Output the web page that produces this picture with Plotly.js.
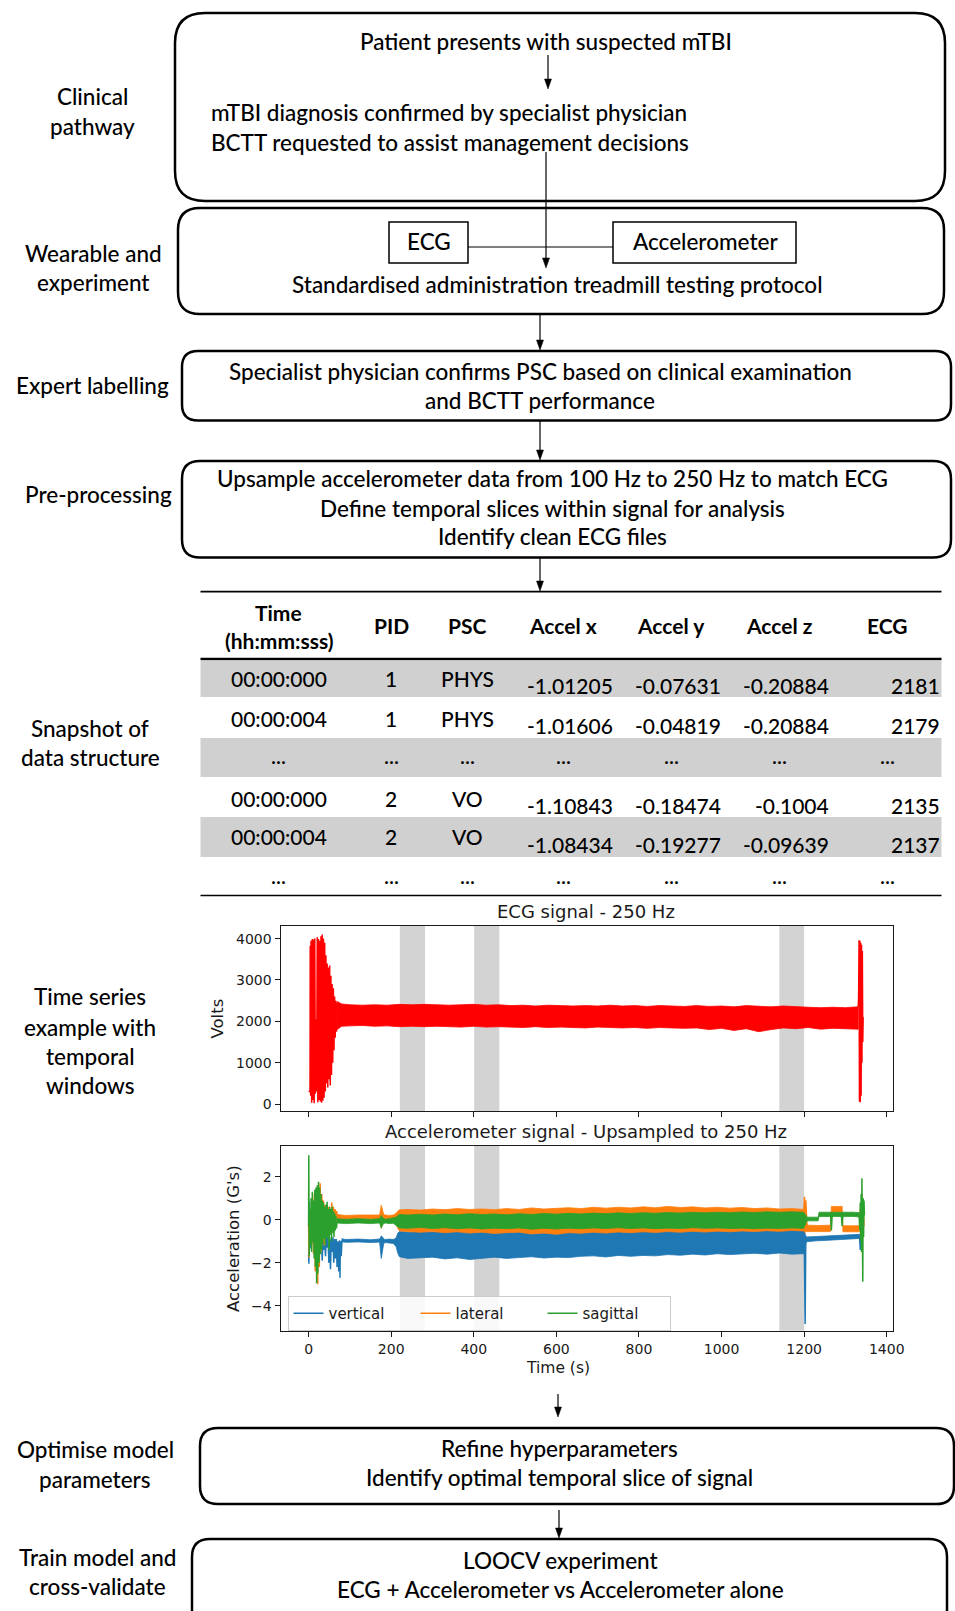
<!DOCTYPE html>
<html><head><meta charset="utf-8">
<script src="https://cdn.plot.ly/plotly-3.0.1.min.js"></script>
<style>html,body{margin:0;padding:0;background:#fff;}#chart{width:955px;height:1611px;}</style>
</head><body><div id="chart"></div>
<script>
// ---------------- DATA ----------------
// Snapshot table
const tableHeaders = ["Time", "PID", "PSC", "Accel x", "Accel y", "Accel z", "ECG"];
const tableTime   = ["00:00:000", "00:00:004", "...", "00:00:000", "00:00:004", "..."];
const tablePID    = ["1", "1", "...", "2", "2", "..."];
const tablePSC    = ["PHYS", "PHYS", "...", "VO", "VO", "..."];
const tableAccelX = ["-1.01205", "-1.01606", "...", "-1.10843", "-1.08434", "..."];
const tableAccelY = ["-0.07631", "-0.04819", "...", "-0.18474", "-0.19277", "..."];
const tableAccelZ = ["-0.20884", "-0.20884", "...", "-0.1004", "-0.09639", "..."];
const tableECG    = ["2181", "2179", "...", "2135", "2137", "..."];

// Temporal windows (s)
const windowStart = [221, 401, 1140];
const windowEnd   = [282, 462, 1200];

// Axis ticks
const timeTicks = [0, 200, 400, 600, 800, 1000, 1200, 1400];
const ecgTicks = [0, 1000, 2000, 3000, 4000];
const accTicks = [-4, -2, 0, 2];

// ECG signal: envelope of dense oscillation + explicit spike traces
const ecgBandT  = [69, 80, 100, 130, 160, 190, 220, 250, 280, 310, 340, 370, 400, 430, 460, 490, 520, 550, 580, 610, 640, 670, 700, 730, 760, 790, 820, 850, 880, 910, 940, 970, 1000, 1030, 1060, 1090, 1120, 1150, 1180, 1210, 1240, 1270, 1300, 1331];
const ecgBandHi = [2480, 2420, 2400, 2390, 2400, 2390, 2410, 2400, 2410, 2400, 2390, 2400, 2410, 2390, 2400, 2380, 2390, 2370, 2390, 2380, 2370, 2380, 2370, 2390, 2370, 2380, 2360, 2380, 2370, 2360, 2380, 2360, 2370, 2350, 2380, 2360, 2350, 2370, 2350, 2340, 2330, 2340, 2330, 2350];
const ecgBandLo = [1800, 1880, 1890, 1900, 1880, 1890, 1870, 1880, 1870, 1880, 1870, 1860, 1880, 1860, 1870, 1860, 1850, 1870, 1850, 1860, 1850, 1840, 1860, 1850, 1840, 1850, 1830, 1850, 1840, 1830, 1840, 1800, 1830, 1780, 1820, 1750, 1800, 1840, 1820, 1850, 1810, 1830, 1820, 1810];
const ecgLineT = [0, 3.5, 4, 5, 6, 7.5, 9, 10.5, 12, 13.5, 15, 16.5, 18, 19.5, 21, 22.5, 24, 25.5, 27, 28.5, 30, 31.5, 33, 34.5, 36, 37.5, 39, 40.5, 42, 43.5, 45, 46.5, 48, 49.5, 51, 52.5, 54, 55.5, 57, 58.5, 60, 61.5, 63, 64.5, 66, 67.5, 69, null, 1331, 1332, 1333, 1334, 1335, 1336, 1337, 1338, 1339, 1340, 1341, 1342, 1343];
const ecgLineV = [300, 300, 3830, 200, 3950, 30, 3990, 100, 3980, 20, 4000, 250, 2050, 300, 4030, 40, 3990, 100, 3950, 60, 4060, 30, 4100, 80, 4000, 150, 3900, 300, 3600, 500, 3400, 400, 3300, 600, 3350, 450, 3100, 700, 2900, 1000, 2800, 1300, 2600, 1600, 2500, 1750, 2450, null, 2350, 2600, 3960, 60, 3950, 40, 3900, 200, 3850, 1000, 3700, 1500, 2100];

// Accelerometer - vertical
const vertBandT  = [80, 90, 120, 150, 172, 176, 179, 182, 186, 195, 205, 212, 216, 220, 240, 270, 300, 330, 360, 390, 420, 450, 480, 510, 540, 570, 600, 630, 660, 690, 720, 750, 780, 810, 840, 870, 900, 930, 960, 990, 1020, 1050, 1080, 1110, 1140, 1170, 1199, 1205, 1230, 1260, 1290, 1320, 1334];
const vertBandHi = [-0.88, -0.92, -0.90, -0.93, -0.90, -0.75, -0.80, -0.90, -0.92, -0.90, -0.92, -0.85, -0.62, -0.55, -0.58, -0.55, -0.57, -0.54, -0.56, -0.52, -0.55, -0.53, -0.56, -0.52, -0.54, -0.50, -0.53, -0.50, -0.52, -0.49, -0.51, -0.48, -0.50, -0.47, -0.50, -0.47, -0.49, -0.46, -0.48, -0.45, -0.48, -0.46, -0.44, -0.47, -0.45, -0.43, -0.45, -0.80, -0.78, -0.76, -0.72, -0.70, -0.68];
const vertBandLo = [-1.02, -1.05, -1.03, -1.06, -1.04, -1.80, -1.45, -1.10, -1.06, -1.08, -1.10, -1.25, -1.55, -1.72, -1.80, -1.76, -1.74, -1.82, -1.77, -1.85, -1.78, -1.74, -1.80, -1.76, -1.72, -1.78, -1.74, -1.76, -1.70, -1.68, -1.73, -1.66, -1.70, -1.66, -1.68, -1.62, -1.65, -1.60, -1.64, -1.58, -1.62, -1.60, -1.56, -1.60, -1.55, -1.60, -1.58, -1.02, -0.98, -0.95, -0.92, -0.88, -0.87];
const vertLineT = [0, 0.7, 1.4, 2.5, 4, 5.5, 7, 9, 11, 13, 15, 17, 19, 21, 23, 25, 27, 29, 31, 33, 35, 37, 39, 41, 43, 45, 47, 49, 51, 53, 55, 57, 59, 61, 63, 65, 67, 69, 71, 73, 75, 76, 77, 79, 81, null, 1200, 1202.5, 1204, null, 1334, 1336, 1337, 1338, 1339];
const vertLineV = [-1.6, -2.05, 0.85, -1.4, -0.7, -1.3, -0.6, -1.1, -0.5, -1.2, -0.8, -1.5, -0.9, -1.3, -0.7, -1.6, -0.8, -1.2, -0.7, -1.9, -0.8, -1.4, -0.9, -1.7, -0.8, -1.3, -0.7, -2.0, -0.8, -2.3, -0.9, -1.5, -0.8, -2.0, -0.9, -1.8, -0.9, -2.2, -1.0, -2.4, -0.95, -2.7, -1.0, -1.7, -0.95, null, -0.6, -4.85, -0.9, null, -0.7, -1.4, -0.5, -1.1, -0.8];

// Accelerometer - lateral
const latBandT  = [68, 90, 120, 150, 172, 176, 179, 182, 186, 195, 205, 212, 216, 220, 240, 270, 300, 330, 360, 390, 420, 450, 480, 510, 540, 570, 600, 630, 660, 690, 720, 750, 780, 810, 840, 870, 900, 930, 960, 990, 1020, 1050, 1080, 1110, 1140, 1170, 1199, 1207, 1235, 1264, 1266, 1292, 1294, 1320, 1334];
const latBandHi = [0.25, 0.20, 0.22, 0.20, 0.22, 0.68, 0.40, 0.25, 0.22, 0.20, 0.22, 0.30, 0.40, 0.46, 0.48, 0.45, 0.50, 0.47, 0.52, 0.48, 0.50, 0.47, 0.52, 0.48, 0.55, 0.50, 0.53, 0.56, 0.52, 0.58, 0.54, 0.58, 0.55, 0.60, 0.56, 0.62, 0.57, 0.60, 0.55, 0.58, 0.54, 0.57, 0.52, 0.55, 0.50, 0.52, 0.48, -0.25, -0.27, -0.25, 0.62, 0.62, -0.28, -0.26, -0.28];
const latBandLo = [0.0, 0.02, 0.0, 0.02, 0.0, -0.40, -0.20, 0.0, 0.02, 0.0, -0.02, -0.20, -0.40, -0.52, -0.55, -0.58, -0.55, -0.60, -0.56, -0.62, -0.58, -0.64, -0.60, -0.58, -0.66, -0.62, -0.68, -0.60, -0.63, -0.58, -0.62, -0.57, -0.60, -0.56, -0.59, -0.55, -0.58, -0.54, -0.57, -0.53, -0.56, -0.52, -0.55, -0.51, -0.54, -0.50, -0.52, -0.55, -0.56, -0.55, 0.36, 0.36, -0.56, -0.55, -0.56];
const latLineT = [0, 1, 2, 4, 6, 8, 10, 12, 14, 16, 18, 20, 22, 24, 26, 28, 30, 32, 34, 36, 38, 40, 42, 44, 46, 48, 50, 52, 54, 56, 58, 60, 62, 64, 66, 68, 70, null, 1199, 1201, 1202.5, 1204, 1207, null, 1334, 1336, 1338, 1340, 1341, 1343, 1345];
const latLineV = [-0.2, -1.75, 0.3, -0.6, 0.5, -1.0, 0.8, -1.6, 1.2, -2.4, 1.0, -2.6, -3.0, 1.3, -2.2, 1.7, -1.5, 1.2, -1.0, 0.9, -1.2, 0.7, -0.8, 0.5, -0.6, 0.6, -0.5, 0.4, -0.4, 0.8, -0.3, 0.6, -0.2, 0.5, -0.1, 0.4, 0.1, null, 0.3, 1.07, -0.6, 0.9, -0.3, null, -0.4, 0.5, -0.9, 1.2, -0.6, 0.4, -0.3];

// Accelerometer - sagittal
const sagBandT  = [68, 90, 120, 150, 172, 176, 179, 182, 186, 195, 205, 212, 216, 220, 240, 270, 300, 330, 360, 390, 420, 450, 480, 510, 540, 570, 600, 630, 660, 690, 720, 750, 780, 810, 840, 870, 900, 930, 960, 990, 1020, 1050, 1080, 1110, 1140, 1170, 1199, 1207, 1234, 1236, 1320, 1334];
const sagBandHi = [0.05, 0.02, 0.05, 0.02, 0.05, 0.20, 0.10, 0.05, 0.02, 0.05, 0.08, 0.12, 0.20, 0.25, 0.22, 0.26, 0.22, 0.27, 0.23, 0.28, 0.24, 0.27, 0.23, 0.28, 0.25, 0.29, 0.26, 0.30, 0.27, 0.31, 0.28, 0.32, 0.29, 0.33, 0.30, 0.34, 0.31, 0.35, 0.32, 0.35, 0.33, 0.36, 0.34, 0.37, 0.35, 0.37, 0.35, 0.12, 0.12, 0.35, 0.35, 0.33];
const sagBandLo = [-0.15, -0.18, -0.15, -0.18, -0.15, -0.39, -0.25, -0.18, -0.15, -0.18, -0.16, -0.25, -0.32, -0.38, -0.40, -0.36, -0.41, -0.37, -0.42, -0.38, -0.43, -0.39, -0.42, -0.38, -0.44, -0.40, -0.43, -0.39, -0.42, -0.38, -0.41, -0.37, -0.41, -0.38, -0.42, -0.39, -0.41, -0.37, -0.40, -0.38, -0.41, -0.39, -0.42, -0.39, -0.41, -0.38, -0.40, -0.05, -0.05, 0.15, 0.15, 0.13];
const sagLineT = [0, 0.5, 1.5, 3, 4.5, 6, 7.5, 9, 10.5, 12, 13.5, 15, 16.5, 18, 19.5, 21, 22.5, 24, 25.5, 27, 28.5, 30, 31.5, 33, 34.5, 36, 37.5, 39, 40.5, 42, 43.5, 45, 46.5, 48, 49.5, 51, 52.5, 54, 55.5, 57, 58.5, 60, 61.5, 63, 64.5, 66, 67.5, 69, null, 1264, 1266, 1268, null, 1290, 1292, 1294, null, 1333, 1335, 1336, 1337, 1338, 1339, 1340, 1341, 1342, 1343, 1344, 1345, 1346];
const sagLineV = [-0.3, 3.0, -1.7, 0.5, -1.2, 1.0, -1.5, 1.3, -1.0, 0.9, -1.8, 1.4, -2.2, 1.5, -2.95, 1.6, -2.5, 1.77, -2.0, 1.5, -1.6, 1.2, -1.4, 0.9, -1.1, 0.8, -0.9, 0.6, -1.2, 0.7, -0.8, 0.84, -0.9, 0.5, -1.4, 0.6, -0.7, 0.5, -1.0, 0.6, -0.6, 0.4, -0.8, 0.3, -0.5, 0.2, -0.4, -0.1, null, 0.25, -0.5, 0.25, null, 0.25, -0.3, 0.25, null, 0.2, -0.5, 0.8, -1.0, 1.2, -1.5, 1.93, -2.0, -2.88, 1.0, -0.8, 0.9, 0.2];

// ---------------- LAYOUT HELPERS ----------------
const W = 955, H = 1611;
const FLOW = 'Lato, "Open Sans", sans-serif';
const MPL = '"DejaVu Sans", sans-serif';
const FS = 22.5;      // flowchart text
const TFS = 21;       // table text
const px = x => x / W;
const py = y => 1 - y / H;
const shapes = [];
const annotations = [];

function rrect(x0, y0, x1, y1, r, lw) {
  const P = (x, y) => px(x) + ',' + py(y);
  const p = 'M ' + P(x0 + r, y0) + ' L ' + P(x1 - r, y0) + ' Q ' + P(x1, y0) + ' ' + P(x1, y0 + r) +
    ' L ' + P(x1, y1 - r) + ' Q ' + P(x1, y1) + ' ' + P(x1 - r, y1) +
    ' L ' + P(x0 + r, y1) + ' Q ' + P(x0, y1) + ' ' + P(x0, y1 - r) +
    ' L ' + P(x0, y0 + r) + ' Q ' + P(x0, y0) + ' ' + P(x0 + r, y0) + ' Z';
  shapes.push({type: 'path', xref: 'paper', yref: 'paper', path: p, line: {color: '#000', width: lw}, fillcolor: 'rgba(0,0,0,0)'});
}
function rect(x0, y0, x1, y1, lw, fill) {
  shapes.push({type: 'rect', xref: 'paper', yref: 'paper', x0: px(x0), x1: px(x1), y0: py(y0), y1: py(y1),
    line: {color: '#000', width: lw}, fillcolor: fill || 'rgba(0,0,0,0)', layer: 'below'});
}
function hline(x0, x1, y, lw) {
  shapes.push({type: 'line', xref: 'paper', yref: 'paper', x0: px(x0), x1: px(x1), y0: py(y), y1: py(y), line: {color: '#000', width: lw}});
}
function arrow(x, y0, y1) {
  shapes.push({type: 'line', xref: 'paper', yref: 'paper', x0: px(x), x1: px(x), y0: py(y0), y1: py(y1 - 8), line: {color: '#000', width: 1.2}});
  shapes.push({type: 'path', xref: 'paper', yref: 'paper',
    path: 'M ' + px(x - 3.5) + ',' + py(y1 - 10) + ' L ' + px(x + 3.5) + ',' + py(y1 - 10) + ' L ' + px(x) + ',' + py(y1) + ' Z',
    fillcolor: '#000', line: {color: '#000', width: 0.5}});
}
function txt(x, y, s, o) {
  o = o || {};
  annotations.push({xref: 'paper', yref: 'paper', x: px(x), y: py(y), text: s, showarrow: false,
    xanchor: o.xa || 'center', yanchor: 'middle', textangle: o.angle || 0,
    font: {family: o.family || FLOW, size: o.size || FS, color: o.color || '#000', weight: o.weight || (o.family ? 400 : 500)}});
}

// ---------------- FLOWCHART ----------------
// Box 1
rrect(175, 13, 945, 201, 30, 2.5);
txt(546, 41, 'Patient presents with suspected mTBI');
arrow(548, 55, 89);
txt(209, 113, 'mTBI diagnosis confirmed by specialist physician', {xa: 'left'});
txt(209, 143, 'BCTT requested to assist management decisions', {xa: 'left'});
arrow(546, 152, 268);
// Box 2
rrect(178, 208, 944, 314, 22, 2.5);
rect(389, 222, 468, 263, 1.5);
rect(613, 222, 796, 263, 1.5);
hline(468, 613, 247, 1);
txt(429, 241, 'ECG');
txt(705, 241, 'Accelerometer');
txt(557, 284, 'Standardised administration treadmill testing protocol');
arrow(540, 314, 350);
// Box 3
rrect(182, 351, 951, 420.5, 16, 2.5);
txt(540, 371, 'Specialist physician confirms PSC based on clinical examination');
txt(540, 400.5, 'and BCTT performance');
arrow(540, 420.5, 460);
// Box 4
rrect(182, 461, 951, 557.5, 18, 2.5);
txt(552, 478, 'Upsample accelerometer data from 100 Hz to 250 Hz to match ECG');
txt(552, 508, 'Define temporal slices within signal for analysis');
txt(552, 537, 'Identify clean ECG files');
arrow(540, 557.5, 591);

// Left labels
txt(92, 97, 'Clinical'); txt(92, 126, 'pathway');
txt(93, 253, 'Wearable and'); txt(93, 282, 'experiment');
txt(92, 385, 'Expert labelling');
txt(98, 494, 'Pre-processing');
txt(90, 728, 'Snapshot of'); txt(90, 757, 'data structure');
txt(90, 997, 'Time series'); txt(90, 1027, 'example with'); txt(90, 1056, 'temporal'); txt(90, 1085, 'windows');
txt(95, 1449, 'Optimise model'); txt(95, 1479, 'parameters');
txt(97, 1557, 'Train model and'); txt(97, 1586, 'cross-validate');

// ---------------- TABLE ----------------
const rowTop = [661, 697, 738, 777, 817, 857];
const rowBot = [697, 738, 777, 817, 857, 895];
[0, 2, 4].forEach(i => shapes.push({type: 'rect', xref: 'paper', yref: 'paper', x0: px(200.5), x1: px(941.5),
  y0: py(rowTop[i]), y1: py(rowBot[i]), fillcolor: '#d0d0d0', line: {width: 0}, layer: 'below'}));
hline(200.5, 941.5, 591.7, 1.8);
hline(200.5, 941.5, 659, 2.6);
hline(200.5, 941.5, 895.5, 1.5);
const colC = [278.5, 391, 467, 563, 671, 779, 887];
const colR = [null, null, null, 615, 723, 831, 942];
txt(colC[0], 612, '<b>' + tableHeaders[0] + '</b>', {size: TFS});
txt(colC[0], 640, '<b>(hh:mm:sss)</b>', {size: TFS});
for (let c = 1; c < 7; c++) txt(colC[c], 626, '<b>' + tableHeaders[c] + '</b>', {size: TFS});
const rowText = [678, 718, 755, 798, 837, 875];
const cols = [tableTime, tablePID, tablePSC, tableAccelX, tableAccelY, tableAccelZ, tableECG];
for (let r = 0; r < 6; r++) {
  for (let c = 0; c < 7; c++) {
    const v = cols[c][r];
    const dots = v === '...';
    if (c < 3 || dots) txt(colC[c], rowText[r], v, {size: TFS});
    else txt(colR[c], rowText[r] + 7, v, {xa: 'right', size: TFS});
  }
}

// Bottom boxes
arrow(558, 1394, 1417);
rrect(200, 1428, 954, 1504, 18, 2.5);
txt(559, 1448, 'Refine hyperparameters');
txt(559, 1477, 'Identify optimal temporal slice of signal');
arrow(559, 1510, 1538);
rrect(192, 1539, 947, 1640, 18, 2.5);
txt(560, 1560, 'LOOCV experiment');
txt(560, 1589, 'ECG + Accelerometer vs Accelerometer alone');

// ---------------- PLOTS ----------------
const TXT = '#1a1a1a';
txt(586, 911, 'ECG signal - 250 Hz', {family: MPL, size: 18, color: TXT});
txt(586, 1131.5, 'Accelerometer signal - Upsampled to 250 Hz', {family: MPL, size: 18, color: TXT});
txt(216.5, 1019, 'Volts', {family: MPL, size: 16.5, color: TXT, angle: -90});
txt(233, 1239, "Acceleration (G's)", {family: MPL, size: 16.5, color: TXT, angle: -90});
txt(558, 1368, 'Time (s)', {family: MPL, size: 15.5, color: TXT});

for (let i = 0; i < windowStart.length; i++) {
  ['', '2'].forEach(k => shapes.push({type: 'rect', xref: 'x' + k, yref: 'y' + k + ' domain',
    x0: windowStart[i], x1: windowEnd[i], y0: 0, y1: 1, fillcolor: '#d3d3d3', line: {width: 0}, layer: 'below'}));
}

function band(t, hi, lo, color, xa, ya) {
  return {type: 'scatter', mode: 'lines', x: t.concat(t.slice().reverse()), y: hi.concat(lo.slice().reverse()),
    fill: 'toself', fillcolor: color, line: {color: color, width: 0.8}, xaxis: xa, yaxis: ya,
    showlegend: false, hoverinfo: 'skip'};
}
function line(t, v, color, xa, ya, name, show) {
  return {type: 'scatter', mode: 'lines', x: t, y: v, line: {color: color, width: 1.5}, connectgaps: false,
    xaxis: xa, yaxis: ya, name: name, showlegend: show, hoverinfo: 'skip'};
}
const RED = '#ff0000', BLUE = '#1f77b4', ORANGE = '#ff7f0e', GREEN = '#2ca02c';
const traces = [
  band(ecgBandT, ecgBandHi, ecgBandLo, RED, 'x', 'y'),
  line(ecgLineT, ecgLineV, RED, 'x', 'y', 'ECG', false),
  band(vertBandT, vertBandHi, vertBandLo, BLUE, 'x2', 'y2'),
  line(vertLineT, vertLineV, BLUE, 'x2', 'y2', 'vertical', true),
  band(latBandT, latBandHi, latBandLo, ORANGE, 'x2', 'y2'),
  line(latLineT, latLineV, ORANGE, 'x2', 'y2', 'lateral', true),
  band(sagBandT, sagBandHi, sagBandLo, GREEN, 'x2', 'y2'),
  line(sagLineT, sagLineV, GREEN, 'x2', 'y2', 'sagittal', true)
];

const axBase = {showgrid: false, zeroline: false, showline: true, mirror: true, linecolor: TXT, linewidth: 1,
  ticks: 'outside', ticklen: 5, tickwidth: 1, tickcolor: TXT, fixedrange: true,
  tickfont: {family: MPL, size: 14, color: TXT}};
const XDOM = [px(280.5), px(892.5)];
const layout = {
  width: W, height: H, margin: {l: 0, r: 0, t: 0, b: 0},
  paper_bgcolor: '#ffffff', plot_bgcolor: 'rgba(0,0,0,0)',
  showlegend: true,
  xaxis: Object.assign({}, axBase, {domain: XDOM, anchor: 'y', range: [-68, 1414], tickvals: timeTicks, showticklabels: false}),
  yaxis: Object.assign({}, axBase, {domain: [py(1111), py(926)], anchor: 'x', range: [-169, 4305], tickvals: ecgTicks}),
  xaxis2: Object.assign({}, axBase, {domain: XDOM, anchor: 'y2', range: [-68, 1414], tickvals: timeTicks}),
  yaxis2: Object.assign({}, axBase, {domain: [py(1330.7), py(1146)], anchor: 'x2', range: [-5.16, 3.43], tickvals: accTicks}),
  legend: {orientation: 'h', x: px(287.5), y: py(1296), xanchor: 'left', yanchor: 'top',
    bgcolor: 'rgba(255,255,255,0.85)', bordercolor: '#cccccc', borderwidth: 1,
    font: {family: MPL, size: 15, color: TXT}, entrywidth: 82, entrywidthmode: 'pixels', tracegroupgap: 0},
  shapes: shapes,
  annotations: annotations
};
Plotly.newPlot('chart', traces, layout, {staticPlot: true, displayModeBar: false});
</script>
</body></html>
